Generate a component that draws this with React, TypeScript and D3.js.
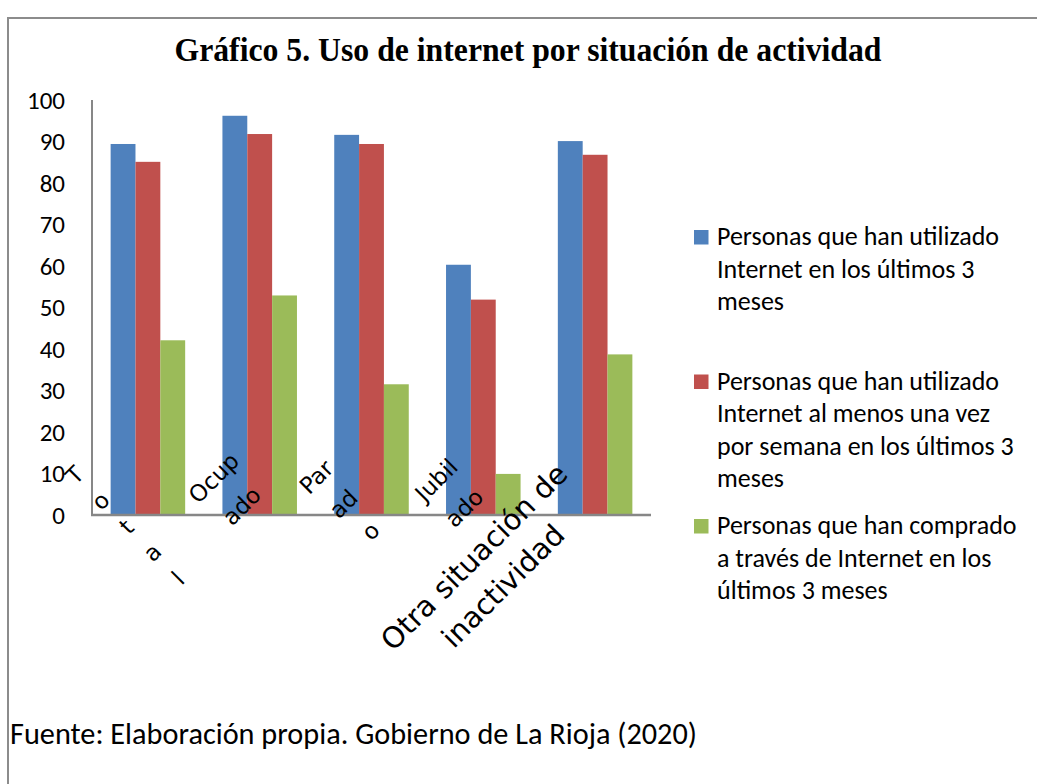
import React from 'react';
import * as d3 from 'd3';

// categories and series
const categories = ['Total', 'Ocupado', 'Parado', 'Jubilado', 'Otra situación de inactividad'];
const seriesNames = [
  'Personas que han utilizado Internet en los últimos 3 meses',
  'Personas que han utilizado Internet al menos una vez por semana en los últimos 3 meses',
  'Personas que han comprado a través de Internet en los últimos 3 meses',
];
const usedLast3 = [89.4, 96.2, 91.6, 60.3, 90.1];
const usedWeekly = [85.1, 91.8, 89.4, 51.9, 86.8];
const purchased = [42.1, 52.9, 31.5, 9.9, 38.7];
const yTicks = [0, 10, 20, 30, 40, 50, 60, 70, 80, 90, 100];

// wrapped tick label lines, as they appear in the source
const xLabelLines = [
  ['T', 'o', 't', 'a', 'l'],
  ['Ocup', 'ado'],
  ['Par', 'ad', 'o'],
  ['Jubil', 'ado'],
  ['Otra situación de', 'inactividad'],
];
const legendLines = [
  ['Personas que han utilizado', 'Internet en los últimos 3', 'meses'],
  ['Personas que han utilizado', 'Internet al menos una vez', 'por semana en los últimos 3', 'meses'],
  ['Personas que han comprado', 'a través de Internet en los', 'últimos 3 meses'],
];

const colors = ['#4F81BD', '#C0504D', '#9BBB59'];
const values = [usedLast3, usedWeekly, purchased];

const W = 1037;
const H = 784;
const plot = { left: 92, right: 651, top: 100, bottom: 515 };
const sans = 'Calibri, Carlito, Lato, sans-serif';
const wide = "'DejaVu Sans', Verdana, sans-serif";

// label placement (first line centre relative to the category centre, step between lines)
const labelLayout = [
  { dx: -73, dy: -40, step: 25.8, size: 23 },
  { dx: -46, dy: -37, step: 28, size: 23 },
  { dx: -55, dy: -38, step: 27, size: 23 },
  { dx: -47, dy: -35, step: 28, size: 23 },
  { dx: -121, dy: 42, step: 29, size: 29 },
];

export default function App() {
  const x0 = d3.scaleBand<string>().domain(categories).range([plot.left, plot.right]);
  const x1 = d3.scaleBand<number>()
    .domain(d3.range(seriesNames.length))
    .range([0, x0.bandwidth()])
    .paddingOuter(0.75);
  const y = d3.scaleLinear().domain([0, 100]).range([plot.bottom, plot.top]);

  return (
    <svg width={W} height={H} style={{ position: 'absolute', left: 0, top: 0, background: '#fff' }}>
      <rect x={0} y={0} width={W} height={H} fill="#fff" />
      {/* outer frame */}
      <path d={`M${W + 5},18 H8 V${H + 5}`} fill="none" stroke="#8c8c8c" strokeWidth={2} />

      <text
        x={528}
        y={61}
        textAnchor="middle"
        fontFamily="'Liberation Serif', 'Times New Roman', serif"
        fontWeight="bold"
        fontSize={34}
        textLength={707}
        lengthAdjust="spacingAndGlyphs"
        fill="#000"
      >
        Gráfico 5. Uso de internet por situación de actividad
      </text>

      {/* bars */}
      {categories.map((c, i) => (
        <g key={c} transform={`translate(${x0(c)},0)`}>
          {values.map((vals, s) => (
            <rect
              key={s}
              x={x1(s)}
              y={y(vals[i])}
              width={x1.bandwidth()}
              height={y(0) - y(vals[i])}
              fill={colors[s]}
            />
          ))}
        </g>
      ))}

      {/* axes */}
      <line x1={plot.left} x2={plot.left} y1={plot.top} y2={plot.bottom} stroke="#878787" strokeWidth={2} />
      <line x1={plot.left - 1} x2={plot.right} y1={plot.bottom} y2={plot.bottom} stroke="#878787" strokeWidth={2.5} />

      {yTicks.map(t => (
        <text
          key={t}
          x={65}
          y={y(t)}
          textAnchor="end"
          dominantBaseline="central"
          fontFamily={sans}
          fontSize={25}
          fill="#000"
        >
          {t}
        </text>
      ))}

      {/* rotated category labels */}
      {categories.map((c, i) => {
        const cx = (x0(c) || 0) + x0.bandwidth() / 2;
        const lay = labelLayout[i];
        return (
          <g key={c}>
            {xLabelLines[i].map((line, k) => {
              const lx = cx + lay.dx + k * lay.step;
              const ly = plot.bottom + lay.dy + k * lay.step;
              return (
                <text
                  key={k}
                  x={lx}
                  y={ly}
                  transform={`rotate(-45,${lx},${ly})`}
                  textAnchor="middle"
                  dominantBaseline="central"
                  fontFamily={wide}
                  fontSize={lay.size}
                  fill="#000"
                >
                  {line}
                </text>
              );
            })}
          </g>
        );
      })}

      {/* legend */}
      {legendLines.map((lines, s) => {
        const base = 245 + s * 144.5;
        return (
          <g key={s}>
            <rect x={694} y={base - 15} width={14.5} height={14.5} fill={colors[s]} />
            {lines.map((line, k) => (
              <text key={k} x={717} y={base + k * 32.5} fontFamily={sans} fontSize={26} fill="#000">
                {line}
              </text>
            ))}
          </g>
        );
      })}

      <text
        x={10}
        y={744}
        fontFamily={sans}
        fontSize={30}
        textLength={687}
        lengthAdjust="spacingAndGlyphs"
        fill="#000"
      >
        Fuente: Elaboración propia. Gobierno de La Rioja (2020)
      </text>
    </svg>
  );
}
